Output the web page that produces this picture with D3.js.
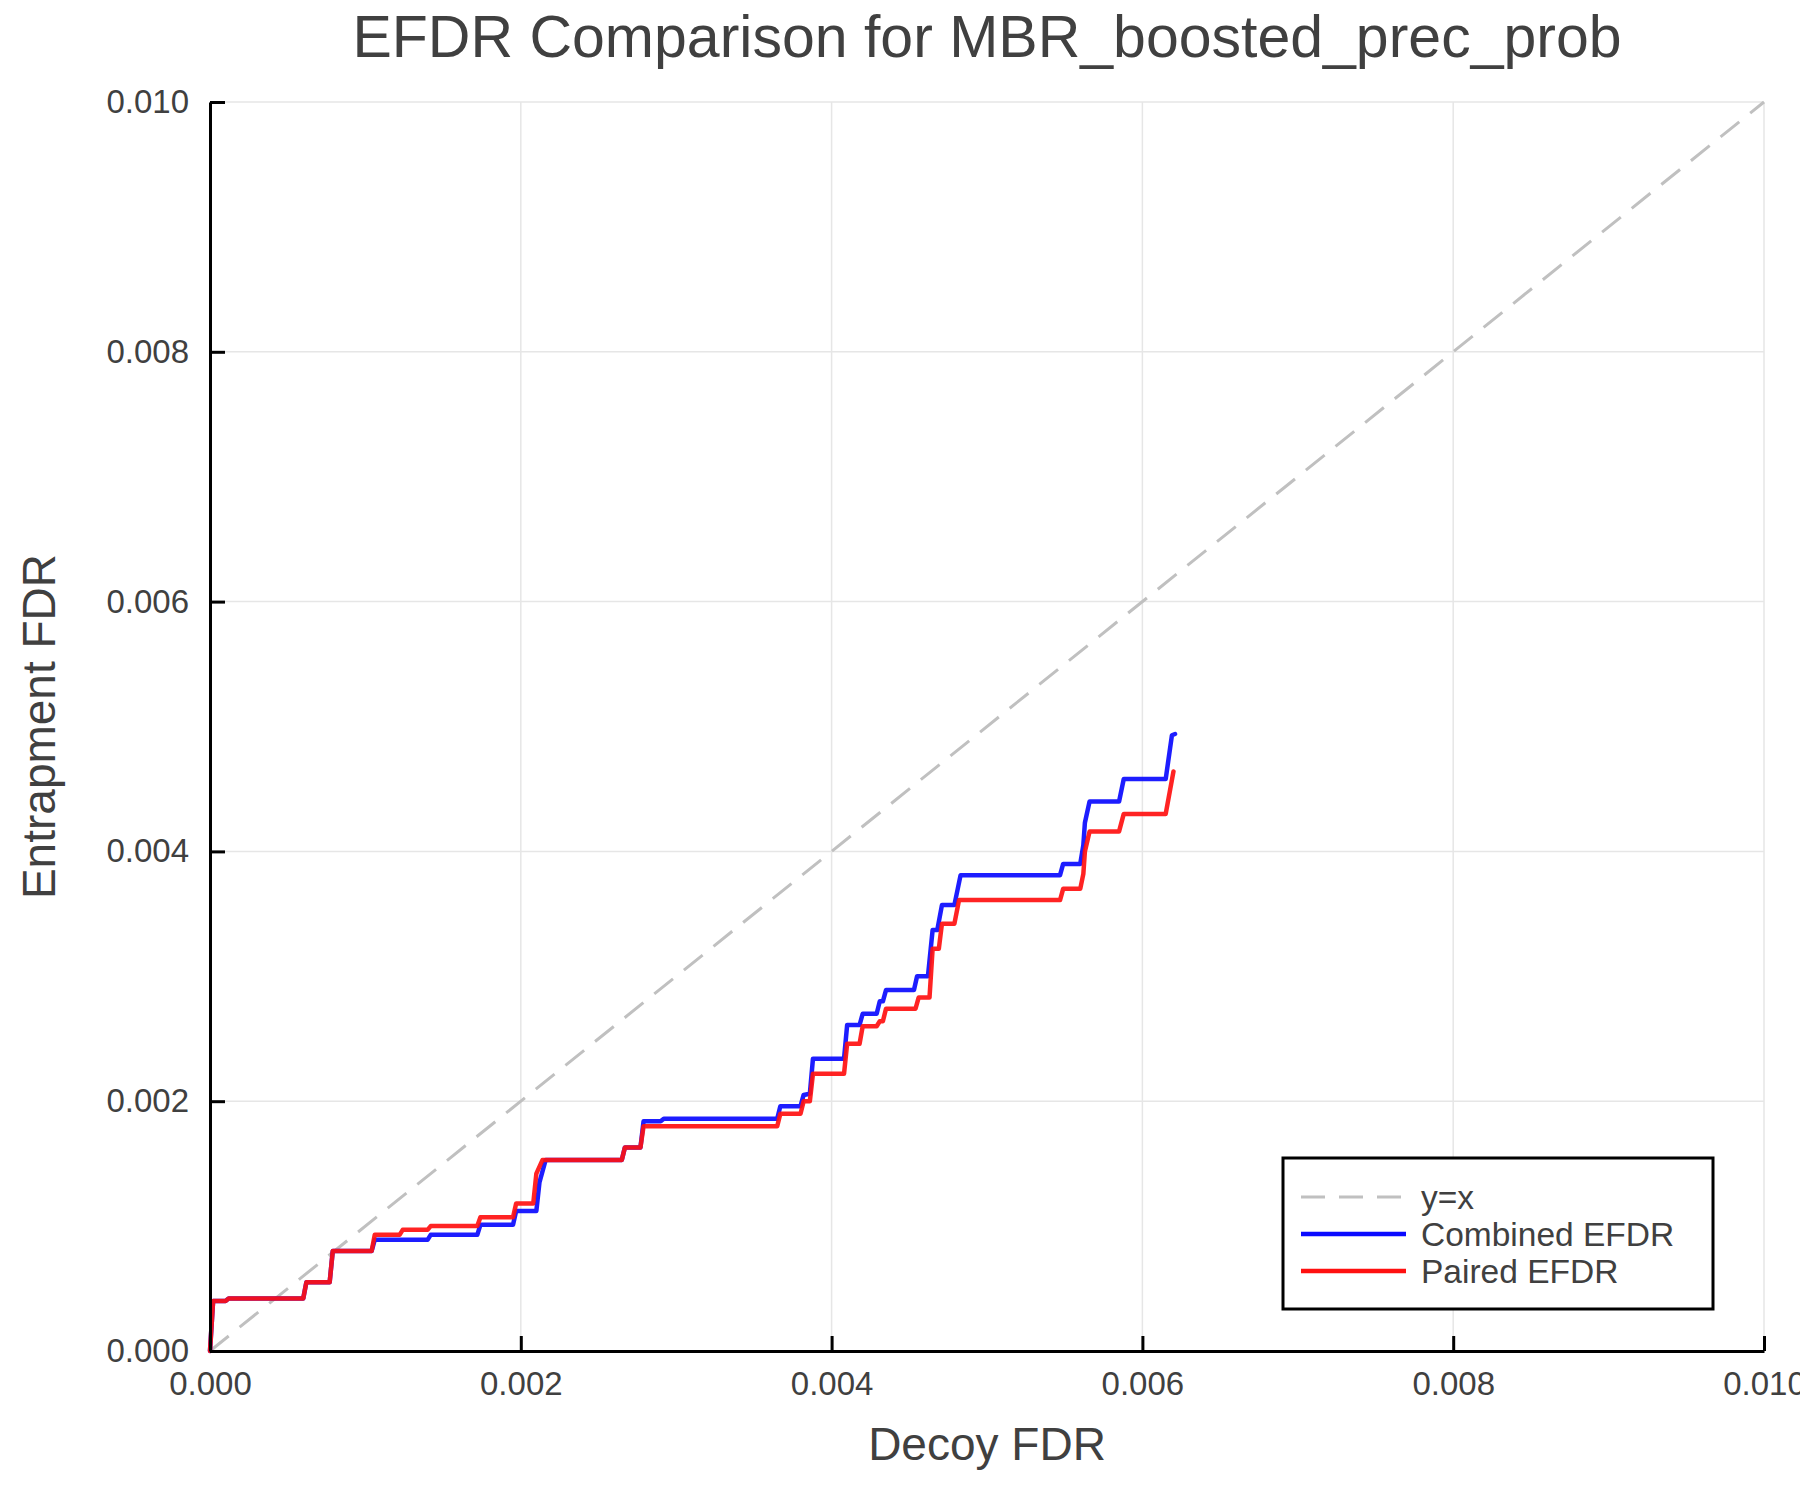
<!DOCTYPE html>
<html>
<head>
<meta charset="utf-8">
<script src="https://cdn.jsdelivr.net/npm/d3@7"></script>
<style>
  body { margin: 0; background: #fff; }
  text { font-family: "Liberation Sans", Arial, Helvetica, sans-serif; fill: #404040; }
</style>
</head>
<body>
<svg id="chart"></svg>
<script>
// values
var titleText = "EFDR Comparison for MBR_boosted_prec_prob";
var xLabel = "Decoy FDR";
var yLabel = "Entrapment FDR";
var tickValues = [0, 0.002, 0.004, 0.006, 0.008, 0.010];
var diagX = [0, 0.010];
var diagY = [0, 0.010];

var combinedX = [0, 0.00002, 0.0001, 0.00012, 0.0006, 0.00062, 0.00077, 0.00079, 0.00104, 0.00106,
  0.0014, 0.00142, 0.00172, 0.00174, 0.00195, 0.00197, 0.0021, 0.00212, 0.00216, 0.00265,
  0.00267, 0.00277, 0.00279, 0.0029, 0.00292, 0.00365, 0.00367, 0.0038, 0.00382, 0.00386,
  0.00388, 0.00408, 0.0041, 0.00418, 0.0042, 0.00429, 0.00431, 0.00433, 0.00435, 0.00453,
  0.00455, 0.00462, 0.00465, 0.00468, 0.00471, 0.00479, 0.00483, 0.00547, 0.00549, 0.0056,
  0.00562, 0.00563, 0.00566, 0.00585, 0.00588, 0.00615, 0.00619, 0.00621];
var combinedY = [0, 0.0004, 0.0004, 0.00042, 0.00042, 0.00055, 0.00055, 0.0008, 0.0008, 0.00089,
  0.00089, 0.00093, 0.00093, 0.00101, 0.00101, 0.00112, 0.00112, 0.00135, 0.00153, 0.00153,
  0.00163, 0.00163, 0.00184, 0.00184, 0.00186, 0.00186, 0.00196, 0.00196, 0.00205, 0.00206,
  0.00234, 0.00234, 0.00261, 0.00261, 0.0027, 0.0027, 0.0028, 0.0028, 0.00289, 0.00289,
  0.003, 0.003, 0.00337, 0.00337, 0.00357, 0.00357, 0.00381, 0.00381, 0.0039, 0.0039,
  0.00405, 0.00423, 0.0044, 0.0044, 0.00458, 0.00458, 0.00493, 0.00494];

var pairedX = [0, 0.00002, 0.0001, 0.00012, 0.0006, 0.00062, 0.00077, 0.00079, 0.00104, 0.00106,
  0.00122, 0.00124, 0.0014, 0.00142, 0.00172, 0.00174, 0.00195, 0.00197, 0.00208, 0.0021,
  0.00214, 0.00265, 0.00267, 0.00277, 0.00279, 0.00365, 0.00367, 0.0038, 0.00382, 0.00386,
  0.00388, 0.00408, 0.0041, 0.00418, 0.0042, 0.00429, 0.00431, 0.00433, 0.00435, 0.00454,
  0.00456, 0.00463, 0.00465, 0.00469, 0.00471, 0.00479, 0.00482, 0.00547, 0.00549, 0.0056,
  0.00562, 0.00563, 0.00566, 0.00585, 0.00588, 0.00615, 0.0062];
var pairedY = [0, 0.0004, 0.0004, 0.00042, 0.00042, 0.00055, 0.00055, 0.0008, 0.0008, 0.00093,
  0.00093, 0.00097, 0.00097, 0.001, 0.001, 0.00107, 0.00107, 0.00118, 0.00118, 0.00142,
  0.00153, 0.00153, 0.00163, 0.00163, 0.0018, 0.0018, 0.0019, 0.0019, 0.002, 0.002,
  0.00222, 0.00222, 0.00246, 0.00246, 0.0026, 0.0026, 0.00264, 0.00264, 0.00274, 0.00274,
  0.00283, 0.00283, 0.00322, 0.00322, 0.00342, 0.00342, 0.00361, 0.00361, 0.0037, 0.0037,
  0.00382, 0.004, 0.00416, 0.00416, 0.0043, 0.0043, 0.00464];

var seriesNames = ["y=x", "Combined EFDR", "Paired EFDR"];
var seriesColors = ["#c0c0c0", "#0a0aff", "#ff1010"];

var W = 1800, H = 1500;
var margin = { top: 102, right: 36, bottom: 149, left: 210 },
  w = W - margin.left - margin.right,
  h = H - margin.top - margin.bottom;

var svg = d3.select("#chart").attr("width", W).attr("height", H);
svg.append("rect").attr("width", W).attr("height", H).attr("fill", "#fff");

var g = svg.append("g").attr("transform", `translate(${margin.left}, ${margin.top})`);

var x_scale = d3.scaleLinear().domain([0, 0.010]).range([0, w]);
var y_scale = d3.scaleLinear().domain([0, 0.010]).range([h, 0]);

// grid
g.append("g").selectAll("line").data(tickValues).join("line")
  .attr("x1", d => x_scale(d)).attr("x2", d => x_scale(d))
  .attr("y1", 0).attr("y2", h)
  .attr("stroke", "#e6e6e6").attr("stroke-width", 1.5);
g.append("g").selectAll("line").data(tickValues).join("line")
  .attr("y1", d => y_scale(d)).attr("y2", d => y_scale(d))
  .attr("x1", 0).attr("x2", w)
  .attr("stroke", "#e6e6e6").attr("stroke-width", 1.5);

// lines
var line = d3.line().x(d => x_scale(d[0])).y(d => y_scale(d[1]));

g.append("path").datum(d3.zip(diagX, diagY))
  .attr("d", line).attr("fill", "none")
  .attr("stroke", seriesColors[0]).attr("stroke-width", 3)
  .attr("stroke-dasharray", "24,14");

g.append("path").datum(d3.zip(combinedX, combinedY))
  .attr("d", line).attr("fill", "none")
  .attr("stroke", seriesColors[1]).attr("stroke-width", 4.5)
  .attr("stroke-linejoin", "round").attr("stroke-linecap", "round")
  .attr("stroke-opacity", 0.92);

g.append("path").datum(d3.zip(pairedX, pairedY))
  .attr("d", line).attr("fill", "none")
  .attr("stroke", seriesColors[2]).attr("stroke-width", 4.5)
  .attr("stroke-linejoin", "round").attr("stroke-linecap", "round")
  .attr("stroke-opacity", 0.92);

// axes (ticks point inward)
var fmt = d3.format(".3f");
var xAxis = g.append("g").attr("class", "x_axis_g")
  .attr("transform", `translate(0, ${h})`)
  .call(d3.axisBottom(x_scale).tickValues(tickValues).tickFormat(fmt).tickSizeInner(-15).tickSizeOuter(0).tickPadding(21));
var yAxis = g.append("g").attr("class", "y_axis_g")
  .call(d3.axisLeft(y_scale).tickValues(tickValues).tickFormat(fmt).tickSizeInner(-15).tickSizeOuter(0).tickPadding(21));

[xAxis, yAxis].forEach(function (a) {
  a.select(".domain").attr("stroke", "#000").attr("stroke-width", 3);
  a.selectAll(".tick line").attr("stroke", "#000").attr("stroke-width", 3);
  a.selectAll(".tick text").attr("font-size", 33).attr("fill", "#404040")
    .style("font-family", '"Liberation Sans", Arial, sans-serif');
});

// title and labels
svg.append("text").attr("x", margin.left + w / 2).attr("y", 57)
  .attr("text-anchor", "middle").attr("font-size", 59)
  .text(titleText);
svg.append("text").attr("x", margin.left + w / 2).attr("y", 1460)
  .attr("text-anchor", "middle").attr("font-size", 46)
  .text(xLabel);
svg.append("text").attr("transform", `translate(55, ${margin.top + h / 2}) rotate(-90)`)
  .attr("text-anchor", "middle").attr("font-size", 46)
  .text(yLabel);

// legend
var legend = svg.append("g").attr("transform", "translate(1283, 1158)");
legend.append("rect").attr("width", 430).attr("height", 151)
  .attr("fill", "#fff").attr("stroke", "#000").attr("stroke-width", 3);
var rows = legend.selectAll(".row").data(seriesNames).join("g")
  .attr("class", "row")
  .attr("transform", (d, i) => `translate(0, ${39 + i * 37})`);
rows.append("line").attr("x1", 18).attr("x2", 123).attr("y1", 0).attr("y2", 0)
  .attr("stroke", (d, i) => seriesColors[i])
  .attr("stroke-width", (d, i) => i == 0 ? 3 : 4.5)
  .attr("stroke-dasharray", (d, i) => i == 0 ? "24,14" : null);
rows.append("text").attr("x", 138).attr("y", 12).attr("font-size", 33.5).text(d => d);
</script>
</body>
</html>
